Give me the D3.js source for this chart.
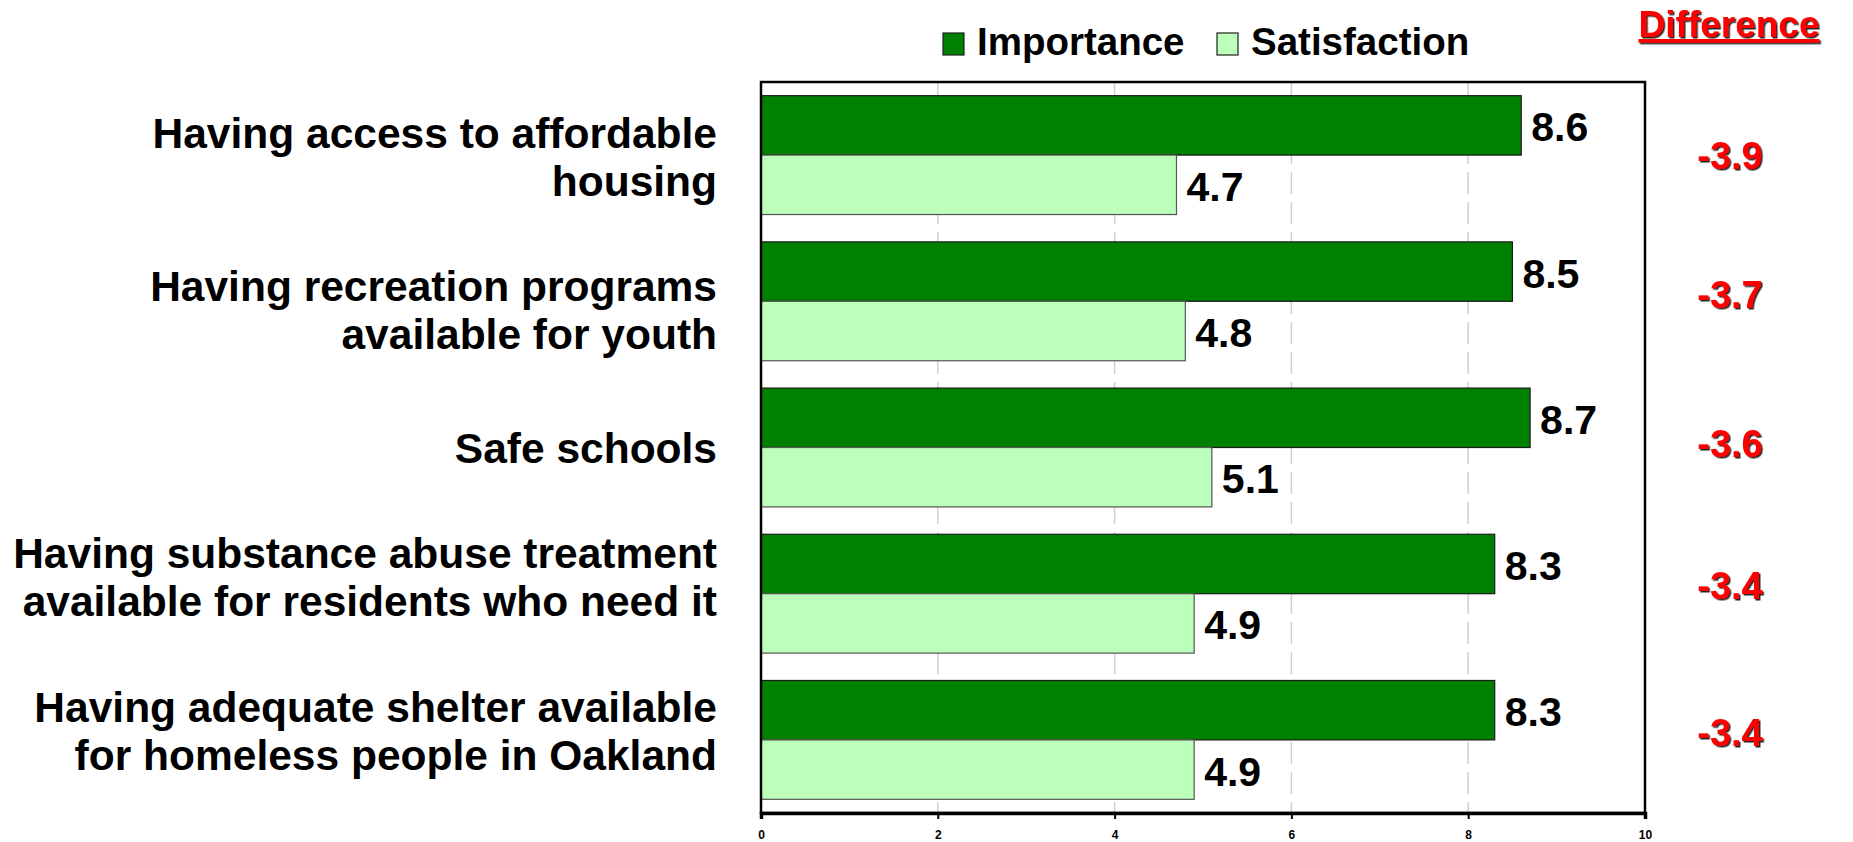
<!DOCTYPE html>
<html>
<head>
<meta charset="utf-8">
<script src="https://cdn.jsdelivr.net/npm/d3@7.9.0/dist/d3.min.js"></script>
<style>
  html, body { margin: 0; padding: 0; background: #fff; }
  svg { display: block; font-family: "Liberation Sans", Arial, sans-serif; font-weight: bold; }
</style>
</head>
<body>
<svg id="chart" width="1853" height="842"></svg>
<script>
// data
const categories = [
  ['Having access to affordable', 'housing'],
  ['Having recreation programs', 'available for youth'],
  ['Safe schools'],
  ['Having substance abuse treatment', 'available for residents who need it'],
  ['Having adequate shelter available', 'for homeless people in Oakland']
];
const series = ['Importance', 'Satisfaction'];
const importance = [8.6, 8.5, 8.7, 8.3, 8.3];
const satisfaction = [4.7, 4.8, 5.1, 4.9, 4.9];
const differences = ['-3.9', '-3.7', '-3.6', '-3.4', '-3.4'];
const xTicks = [0, 2, 4, 6, 8, 10];

const colors = { Importance: '#008000', Satisfaction: '#bbffbb' };
// small hand nudges of the text boxes, like in the slide
const labelNudge = [2, 9, 0, -17, -9];
const diffNudge = [0, -7, -5, -9, -8];

const svg = d3.select('#chart');
const plot = { left: 761, right: 1645, top: 82, bottom: 813 };

let x = d3.scaleLinear().domain([0, 10]).range([plot.left, plot.right]);
let y = d3.scaleBand()
  .domain(d3.range(categories.length))
  .range([plot.top, plot.bottom])
  .paddingInner(0.187)
  .paddingOuter(0.0935);
let ySub = d3.scaleBand().domain(series).range([0, y.bandwidth()]);

// grid lines
svg.append('g')
  .selectAll('line')
  .data(xTicks.slice(1, -1))
  .join('line')
  .attr('x1', d => x(d)).attr('x2', d => x(d))
  .attr('y1', plot.top).attr('y2', plot.bottom)
  .attr('stroke', '#cfcfcf')
  .attr('stroke-width', 1.5)
  .attr('stroke-dasharray', '22,8');

// bars
let rows = categories.map((c, i) => ({ i, Importance: importance[i], Satisfaction: satisfaction[i] }));
let groups = svg.append('g')
  .selectAll('g')
  .data(rows)
  .join('g')
  .attr('transform', d => `translate(0,${y(d.i)})`);

groups.selectAll('rect')
  .data(d => series.map(s => ({ s, v: d[s] })))
  .join('rect')
  .attr('x', x(0))
  .attr('y', d => ySub(d.s))
  .attr('width', d => x(d.v) - x(0))
  .attr('height', ySub.bandwidth())
  .attr('fill', d => colors[d.s])
  .attr('stroke', d => d.s === 'Importance' ? '#1a1a1a' : '#555')
  .attr('stroke-width', 1.2);

groups.selectAll('text.val')
  .data(d => series.map(s => ({ s, v: d[s] })))
  .join('text')
  .attr('class', 'val')
  .attr('x', d => x(d.v) + 10)
  .attr('y', d => ySub(d.s) + ySub.bandwidth() / 2 + 16)
  .attr('font-size', 41)
  .attr('fill', '#000')
  .text(d => d.v.toFixed(1));

// frame and axis
svg.append('rect')
  .attr('x', plot.left).attr('y', plot.top)
  .attr('width', plot.right - plot.left)
  .attr('height', plot.bottom - plot.top)
  .attr('fill', 'none')
  .attr('stroke', '#000')
  .attr('stroke-width', 2.5);

let xAxis = svg.append('g')
  .attr('transform', `translate(0,${plot.bottom})`)
  .call(d3.axisBottom(x).tickValues(xTicks).tickSize(6).tickPadding(11).tickFormat(d3.format('d')));
xAxis.select('.domain').attr('stroke', '#000').attr('stroke-width', 3.5);
xAxis.selectAll('.tick line').attr('stroke', '#000').attr('stroke-width', 2);
xAxis.selectAll('.tick text')
  .attr('font-family', '"Liberation Sans", Arial, sans-serif')
  .attr('font-weight', 'bold')
  .attr('font-size', 12)
  .attr('fill', '#000');

// category labels
let catLabels = svg.append('g')
  .selectAll('text')
  .data(categories)
  .join('text')
  .attr('text-anchor', 'end')
  .attr('font-size', 42.5)
  .attr('fill', '#000');
catLabels.each(function (lines, i) {
  let mid = y(i) + y.bandwidth() / 2 + labelNudge[i];
  let first = mid - (lines.length - 1) * 24 + 15;
  d3.select(this).selectAll('tspan')
    .data(lines)
    .join('tspan')
    .attr('x', 717)
    .attr('y', (l, k) => first + k * 48)
    .text(l => l);
});

// difference column
const shadow = svg.append('defs').append('filter').attr('id', 'shadow')
  .attr('x', '-10%').attr('y', '-10%').attr('width', '130%').attr('height', '130%');
shadow.append('feDropShadow')
  .attr('dx', 1.5).attr('dy', 1.5).attr('stdDeviation', 0.3)
  .attr('flood-color', '#000').attr('flood-opacity', 0.85);

svg.append('text')
  .attr('x', 1729).attr('y', 37)
  .attr('text-anchor', 'middle')
  .attr('font-size', 37)
  .attr('fill', '#ff0000')
  .attr('text-decoration', 'underline')
  .attr('filter', 'url(#shadow)')
  .text('Difference');

svg.append('g')
  .selectAll('text')
  .data(differences)
  .join('text')
  .attr('x', 1730)
  .attr('y', (d, i) => y(i) + y.bandwidth() / 2 + diffNudge[i] + 14)
  .attr('text-anchor', 'middle')
  .attr('font-size', 38)
  .attr('fill', '#ff0000')
  .attr('filter', 'url(#shadow)')
  .text(d => d);

// legend
let legend = svg.append('g');
let legendX = [943, 1217];
series.forEach((s, i) => {
  legend.append('rect')
    .attr('x', legendX[i]).attr('y', 33)
    .attr('width', 21).attr('height', 22)
    .attr('fill', colors[s])
    .attr('stroke', '#222')
    .attr('stroke-width', 1.2);
  legend.append('text')
    .attr('x', legendX[i] + 34).attr('y', 55)
    .attr('font-size', 38.5)
    .attr('fill', '#000')
    .text(s);
});
</script>
</body>
</html>
